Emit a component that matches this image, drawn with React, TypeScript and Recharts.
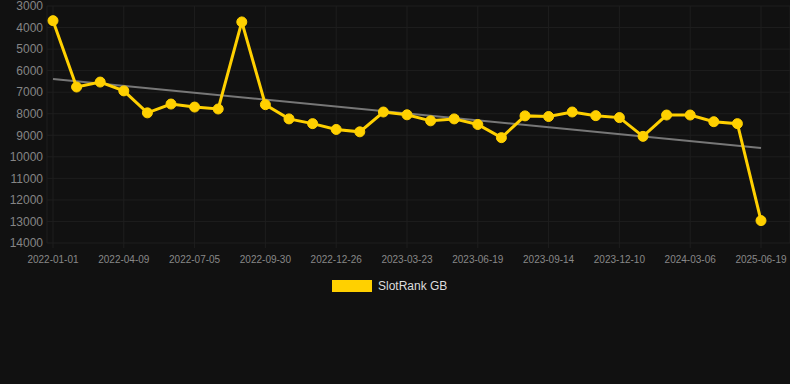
import { CartesianGrid, Line, LineChart, XAxis, YAxis } from "recharts";

const dates = [
  "2022-01-01", "2022-02-03", "2022-03-08", "2022-04-09", "2022-05-08", "2022-06-06",
  "2022-07-05", "2022-08-03", "2022-09-01", "2022-09-30", "2022-10-29", "2022-11-27",
  "2022-12-26", "2023-01-24", "2023-02-22", "2023-03-23", "2023-04-21", "2023-05-20",
  "2023-06-19", "2023-07-18", "2023-08-16", "2023-09-14", "2023-10-13", "2023-11-11",
  "2023-12-10", "2024-01-08", "2024-02-06", "2024-03-06", "2024-04-04", "2024-05-03",
  "2025-06-19",
];

const slotRank = [
  3680, 6760, 6530, 6940, 7960, 7550, 7690, 7780, 3740, 7580,
  8240, 8460, 8730, 8840, 7920, 8050, 8330, 8240, 8500, 9110,
  8100, 8130, 7920, 8090, 8180, 9050, 8060, 8060, 8370, 8460,
  12960,
];

// regression line at both ends
const trendEnds = [6390, 9590];

const tickLabels = [
  "2022-01-01", "2022-04-09", "2022-07-05", "2022-09-30", "2022-12-26", "2023-03-23",
  "2023-06-19", "2023-09-14", "2023-12-10", "2024-03-06", "2025-06-19",
];

const yTicks = [3000, 4000, 5000, 6000, 7000, 8000, 9000, 10000, 11000, 12000, 13000, 14000];

const data = dates.map((d, i) => ({
  date: d,
  rank: slotRank[i],
  trend: i === 0 ? trendEnds[0] : i === dates.length - 1 ? trendEnds[1] : null,
}));

const YELLOW = "#FFD000";
const GRID = "#1e1e1e";

export default function App() {
  return (
    <div style={{ position: "fixed", inset: 0, background: "#111111", fontFamily: "'Liberation Sans', Arial, sans-serif" }}>
      <LineChart width={790} height={384} data={data} margin={{ top: 6, right: 0, bottom: 111, left: 0 }}>
        <CartesianGrid stroke={GRID} strokeWidth={1} />
        <XAxis
          dataKey="date"
          ticks={tickLabels}
          interval={0}
          height={30}
          padding={{ left: 6, right: 29 }}
          axisLine={false}
          tickLine={{ stroke: GRID }}
          tickSize={5}
          tickMargin={8}
          tick={{ fill: "#888888", fontSize: 10 }}
        />
        <YAxis
          reversed
          domain={[3000, 14000]}
          ticks={yTicks}
          interval={0}
          width={47}
          axisLine={false}
          tickLine={false}
          tickSize={0}
          tickMargin={4}
          tick={{ fill: "#858585", fontSize: 12 }}
        />
        <Line
          dataKey="trend"
          connectNulls
          stroke="#777777"
          strokeWidth={2}
          dot={false}
          activeDot={false}
          isAnimationActive={false}
        />
        <Line
          dataKey="rank"
          stroke={YELLOW}
          strokeWidth={3}
          dot={{ r: 5, fill: YELLOW, stroke: YELLOW, strokeWidth: 1 }}
          activeDot={false}
          isAnimationActive={false}
        />
      </LineChart>
      <div style={{ position: "absolute", top: 279, left: 332, display: "flex", alignItems: "center" }}>
        <span style={{ display: "inline-block", width: 40, height: 12, background: YELLOW }} />
        <span style={{ marginLeft: 6, fontSize: 12, color: "#dddddd" }}>SlotRank GB</span>
      </div>
    </div>
  );
}
